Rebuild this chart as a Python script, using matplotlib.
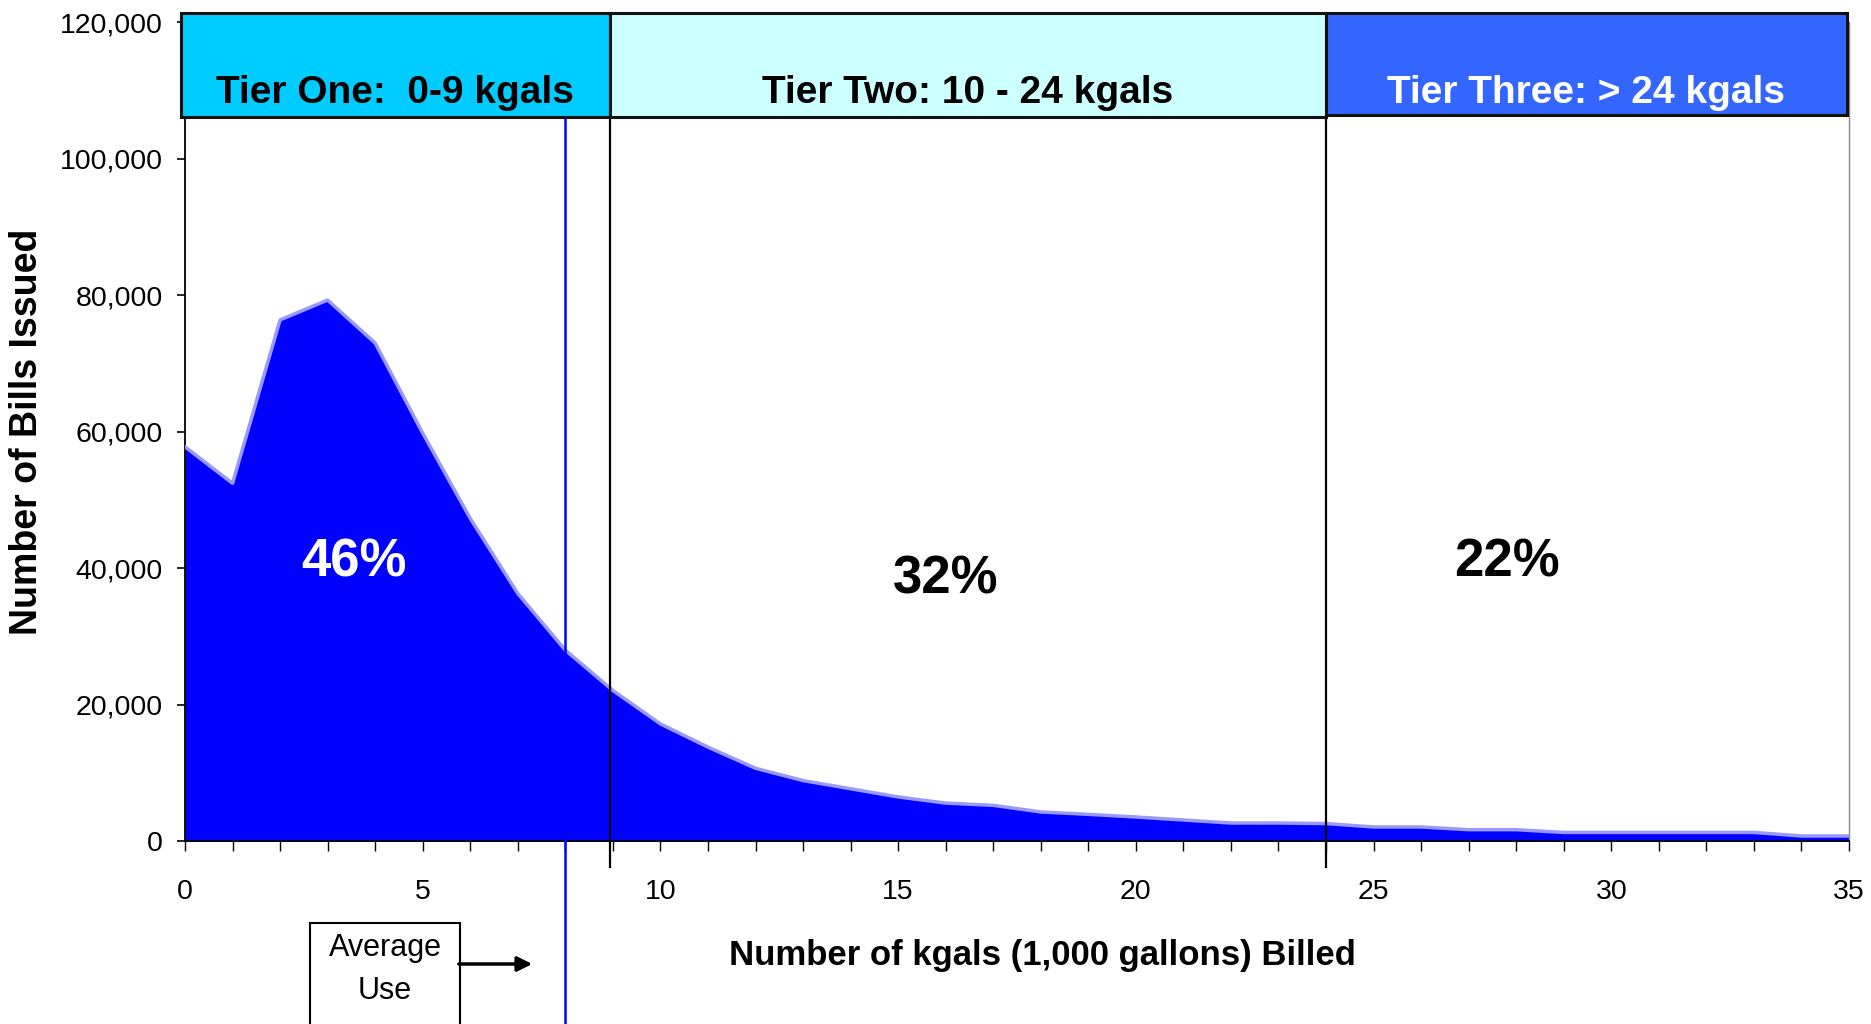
import matplotlib
matplotlib.use("Agg")
import matplotlib.pyplot as plt
from matplotlib.patches import Rectangle, FancyArrowPatch
from matplotlib.ticker import MultipleLocator, FuncFormatter

# ---- data ----
kgals = list(range(0, 36))
bills = [57800, 52450, 76400, 79300, 73000, 59800, 47300, 36300, 28000, 22100,
         17200, 13800, 10700, 8900, 7700, 6500, 5600, 5270, 4300, 3950,
         3560, 3120, 2680, 2680, 2600, 2100, 2100, 1700, 1700, 1300,
         1300, 1300, 1300, 1300, 780, 780]

tier_labels = ["Tier One:  0-9 kgals", "Tier Two: 10 - 24 kgals", "Tier Three: > 24 kgals"]
tier_start = [-0.08, 8.93, 24]
tier_end = [8.93, 24, 34.95]
tier_colors = ["#00CCFF", "#CCFFFF", "#3366FF"]
tier_text_colors = ["black", "black", "white"]
tier_pct = ["46%", "32%", "22%"]
pct_pos_x = [3.55, 16.0, 27.8]
pct_pos_y = [40900, 38400, 40900]
pct_colors = ["white", "black", "black"]
average_use = 8
yticks = [0, 20000, 40000, 60000, 80000, 100000, 120000]
xticks_major = [0, 5, 10, 15, 20, 25, 30, 35]

NARROW = ["Liberation Sans Narrow", "Liberation Sans", "DejaVu Sans"]
REG = ["Liberation Sans", "DejaVu Sans"]

W, H = 1871, 1024
fig = plt.figure(figsize=(W / 100, H / 100), dpi=100)
fig.patch.set_facecolor("white")

ax_l, ax_r, ax_b, ax_t = 185, 1849, 841.3, 22.3
ax = fig.add_axes([ax_l / W, 1 - ax_b / H, (ax_r - ax_l) / W, (ax_b - ax_t) / H])
ax.set_xlim(0, 35)
ax.set_ylim(0, 120000)

# area
ax.fill_between(kgals, bills, 0, color="#0000FF", linewidth=0, zorder=2)
ax.plot(kgals, bills, color="#9999FF", lw=2.5, zorder=3, solid_joinstyle="round")

# spines
ax.spines["top"].set_visible(False)
ax.spines["left"].set_linewidth(1.3)
ax.spines["bottom"].set_linewidth(1.3)
ax.spines["right"].set_linewidth(1.0)
ax.spines["right"].set_color("#888888")

ax.set_yticks(yticks)
ax.yaxis.set_major_formatter(FuncFormatter(lambda v, p: f"{int(v):,}"))
ax.set_xticks(xticks_major)
ax.xaxis.set_minor_locator(MultipleLocator(1))
ax.tick_params(axis="y", direction="out", length=6, width=1.2, pad=10,
               labelsize=20.5)
ax.tick_params(axis="x", which="both", direction="out", length=7, width=1.0,
               pad=20, labelsize=20.5)
for lab in ax.get_xticklabels() + ax.get_yticklabels():
    lab.set_fontfamily(NARROW)

# tier boxes
box_bottom = [106080, 106080, 106400]
box_top = 121400
for s, e, c, lab, tc, bb in zip(tier_start, tier_end, tier_colors, tier_labels,
                                tier_text_colors, box_bottom):
    r = Rectangle((s, bb), e - s, box_top - bb, facecolor=c, edgecolor="#111111",
                  lw=2.2, clip_on=False, zorder=5)
    ax.add_patch(r)
    ax.text((s + e) / 2, 108200, lab, ha="center", va="baseline", fontsize=28,
            fontweight="bold", color=tc, family=NARROW, zorder=6, clip_on=False)

# tier dividers
for xv in tier_start[1:]:
    ax.plot([xv, xv], [-3700, box_bottom[0]], color="black", lw=1.6,
            clip_on=False, zorder=4)

# average use line
ax.plot([average_use, average_use], [-30000, box_bottom[0]], color="#0000FF",
        lw=1.8, clip_on=False, zorder=4)

# percentages
for xp, yp, t, c in zip(pct_pos_x, pct_pos_y, tier_pct, pct_colors):
    ax.text(xp, yp, t, ha="center", va="center", fontsize=38, fontweight="bold",
            color=c, family=REG, zorder=6)

# axis labels
fig.text(27 / W, 1 - 432 / H, "Number of Bills Issued", rotation=90, ha="center",
         va="center", fontsize=27, fontweight="bold", family=REG)
fig.text(1042 / W, 1 - 956 / H, "Number of kgals (1,000 gallons) Billed",
         ha="center", va="center", fontsize=25, fontweight="bold", family=NARROW)

# average use box
bx0, bx1, by_top = 310 / W, 460 / W, 1 - 923 / H
fig.add_artist(Rectangle((bx0, -0.02), bx1 - bx0, by_top + 0.02,
                         transform=fig.transFigure, facecolor="white",
                         edgecolor="black", lw=1.5))
fig.text((bx0 + bx1) / 2, 1 - 948 / H, "Average", ha="center", va="center",
         fontsize=22, family=NARROW)
fig.text((bx0 + bx1) / 2, 1 - 991 / H, "Use", ha="center", va="center",
         fontsize=22, family=NARROW)
fig.add_artist(FancyArrowPatch((456 / W, 1 - 964 / H), (535 / W, 1 - 964 / H),
                               transform=fig.transFigure, arrowstyle="-|>",
                               mutation_scale=22, lw=2.5, color="black"))

fig.savefig("out.png", dpi=100)
